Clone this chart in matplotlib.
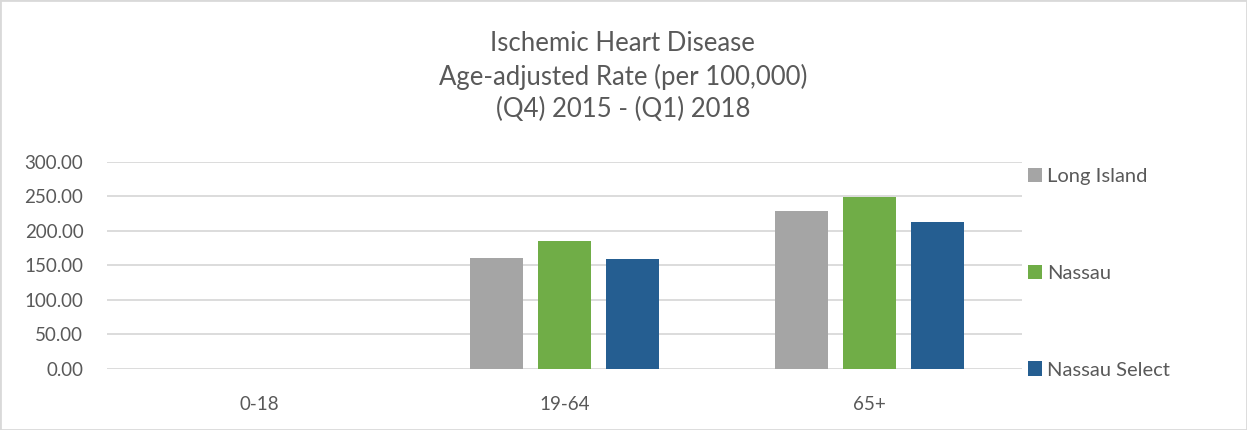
import numpy as np
import matplotlib.pyplot as plt
from matplotlib.patches import Rectangle

# data
categories = ["0-18", "19-64", "65+"]
long_island = [0.0, 160.2, 228.4]
nassau = [0.0, 185.3, 248.8]
nassau_select = [0.0, 159.2, 212.9]
series_names = ["Long Island", "Nassau", "Nassau Select"]
colors = ["#A5A5A5", "#70AD47", "#255E91"]
yticks = [0, 50, 100, 150, 200, 250, 300]

txt = "#595959"
plt.rcParams['font.family'] = ['Lato', 'DejaVu Sans']

fig = plt.figure(figsize=(12.47, 4.30), dpi=100)
ax = fig.add_axes([0.0858, 0.1426, 0.7338, 0.4807])

x = np.arange(len(categories))
w = 0.174
step = 0.222
for i, (vals, c) in enumerate(zip([long_island, nassau, nassau_select], colors)):
    ax.bar(x + (i - 1) * step, vals, width=w, color=c, label=series_names[i], zorder=3)

ax.set_xlim(-0.5, 2.5)
ax.set_ylim(0, 300)
ax.set_yticks(yticks)
ax.set_yticklabels([f"{v:.2f}" for v in yticks])
ax.set_xticks(x)
ax.set_xticklabels(categories)
ax.grid(axis='y', color='#D9D9D9', linewidth=1.3, zorder=0)
for s in ax.spines.values():
    s.set_visible(False)
ax.tick_params(axis='both', length=0, labelsize=13.5, colors=txt)
ax.tick_params(axis='y', pad=17)
ax.tick_params(axis='x', pad=20)

fig.text(0.4995, 0.822, "Ischemic Heart Disease\nAge-adjusted Rate (per 100,000)\n(Q4) 2015 - (Q1) 2018",
         ha='center', va='center', fontsize=18.5, color=txt, linespacing=1.36)

leg = fig.legend(loc='upper left', bbox_to_anchor=(0.81, 0.651), frameon=False,
                 fontsize=14.5, labelspacing=3.95, handlelength=0.7, handleheight=0.7,
                 handletextpad=0.25, labelcolor=txt)

fig.patches.append(Rectangle((0, 0), 1, 1, transform=fig.transFigure, fill=False,
                             edgecolor='#D9D9D9', linewidth=2))

plt.savefig("out.png", dpi=100)
